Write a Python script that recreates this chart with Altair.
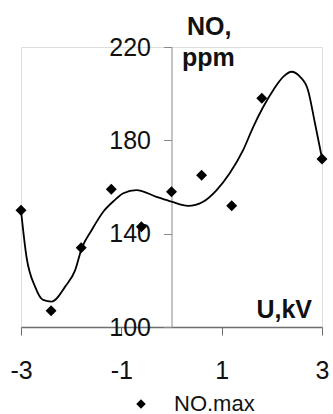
import altair as alt
import pandas as pd

# Measured points (NO.max)
pt_x = [-3.0, -2.4, -1.8, -1.2, -0.6, 0.0, 0.6, 1.2, 1.8, 3.0]
pt_y = [150, 107, 134, 159, 143, 158, 165, 152, 198, 172]

# Smoothed curve
cv_x = [-3.0, -2.89, -2.72, -2.56, -2.39, -2.12, -1.92, -1.79, -1.59, -1.36, -1.13,
        -0.96, -0.70, -0.30, 0.0, 0.33, 0.63, 0.90, 1.16, 1.43, 1.63, 1.83, 2.03,
        2.23, 2.39, 2.56, 2.72, 2.86, 3.0]
cv_y = [150, 130, 117.3, 111.6, 110.9, 117.3, 124.4, 133.7, 141.6, 149.4, 154.4,
        157.3, 158.7, 155.8, 153.7, 151.9, 153.7, 158.7, 165.9, 175.9, 185.8, 194.4, 201.6,
        207.3, 209.4, 207.3, 201.6, 187.3, 172.3]

x_ticks = [-3, -1, 1, 3]
y_ticks = [100, 140, 180, 220]
series_name = "NO.max"

FONT = "Liberation Sans"
W, H = 301, 280

pts = pd.DataFrame({"U": pt_x, "NO": pt_y, "series": [series_name] * len(pt_x)})
cv = pd.DataFrame({"U": cv_x, "NO": cv_y})

xs = alt.Scale(domain=[-3, 3], nice=False, zero=False)
ys = alt.Scale(domain=[100, 220], nice=False, zero=False)

x_axis = alt.Axis(values=x_ticks, title=None, grid=False, domainColor="#6e6e6e",
                  domainWidth=1.5, tickColor="#6e6e6e", tickSize=8, labelFontSize=25,
                  labelFont=FONT, labelColor="#111", labelPadding=23, labelFlush=False,
                  labelOverlap=False, labelExpr="'' + datum.value")
y_axis = alt.Axis(values=y_ticks, title=None, grid=False, offset=-150.5,
                  domainColor="#8a8a8a", tickColor="#8a8a8a", tickSize=8, labelFontSize=25,
                  labelFont=FONT, labelColor="#111", labelPadding=13, labelFlush=False,
                  labelOverlap=False)

curve = alt.Chart(cv).mark_line(color="black", strokeWidth=1.8, interpolate="monotone").encode(
    x=alt.X("U:Q", scale=xs, axis=x_axis),
    y=alt.Y("NO:Q", scale=ys, axis=y_axis),
)

points = alt.Chart(pts).mark_point(filled=True, opacity=1, size=120).encode(
    x=alt.X("U:Q", scale=xs),
    y=alt.Y("NO:Q", scale=ys),
    shape=alt.Shape("series:N", scale=alt.Scale(range=["diamond"]),
                    legend=alt.Legend(title=None, orient="none", legendX=109, legendY=346,
                                      labelFontSize=22, labelFont=FONT, labelColor="#111",
                                      symbolSize=90, symbolFillColor="black",
                                      symbolStrokeColor="black", labelOffset=22)),
    color=alt.value("black"),
)

def label(txt, x, y, align="left"):
    return alt.Chart(pd.DataFrame({"t": [txt]})).mark_text(
        font=FONT, fontSize=25, fontWeight="bold", color="#111", align=align,
        baseline="alphabetic").encode(x=alt.value(x), y=alt.value(y), text="t:N")

chart = alt.layer(
    curve, points,
    label("NO,", 166, -12), label("ppm", 161, 19), label("U,kV", 291, 271, "right"),
).properties(
    width=W, height=H,
    padding={"left": 21, "top": 47, "right": 11, "bottom": 87},
    autosize=alt.AutoSizeParams(type="none"),
).configure_view(stroke="#8a8a8a", strokeWidth=1.2).configure(background="white")

chart.save("out.html", embed_options={"renderer": "svg", "actions": False})
